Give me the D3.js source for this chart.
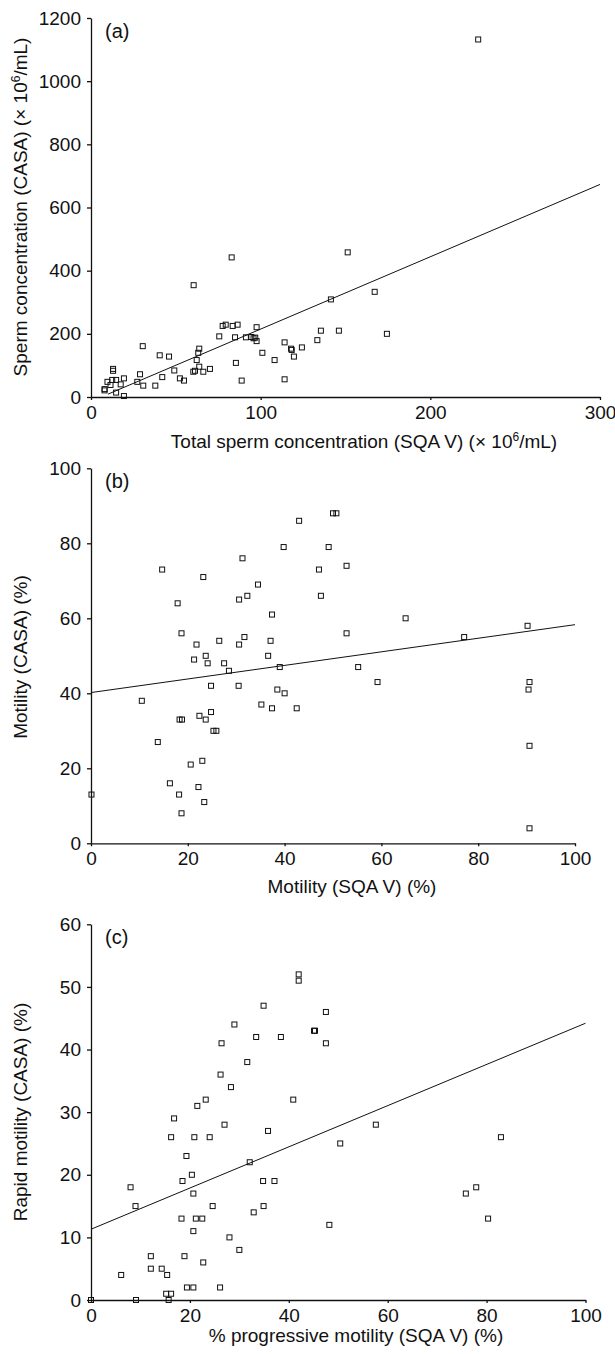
<!DOCTYPE html>
<html lang="en">
<head>
<meta charset="utf-8">
<title>SQA V vs CASA</title>
<script src="https://d3js.org/d3.v7.min.js"></script>
<style>
  body { margin: 0; background: #fff; }
  svg text { font-family: "Liberation Sans", Arial, sans-serif; fill: #111; }
  .axis text { font-size: 19px; }
  .axis path, .axis line { stroke: #111; stroke-width: 1.3; }
  .pt { fill: none; stroke: #111; stroke-width: 1; }
  .fit { stroke: #111; stroke-width: 1; fill: none; }
  .title { font-size: 19px; }
</style>
</head>
<body>
<div id="chart"></div>
<script>
// (a) sperm concentration, x 10^6/mL
const concSqa  = [8, 8, 9.7, 11.5, 12.5, 13, 13, 14.8, 14.8, 17.5, 19.4, 19.4, 27.3, 28.9, 30.5, 30.8, 37.9, 40.5, 42, 46, 49.1, 52.4, 54.8, 60.3, 61.3, 60.5, 62.3, 63.2, 63.8, 63.8, 66.2, 70.1, 75.6, 77.6, 79.4, 82.9, 83.5, 84.9, 85.4, 86.4, 88.8, 91.3, 94.5, 95.8, 96.8, 97.6, 97.6, 101, 108.2, 114.1, 114.1, 117.9, 118.3, 119.6, 124.3, 133.4, 135.5, 141.4, 146.1, 151.3, 167.2, 174.4, 228.2];
const concCasa = [25, 21, 48, 38, 54, 89, 83, 54, 14, 40, 59, 3, 48, 72, 161, 36, 36, 132, 63, 128, 84, 59, 52, 80, 83, 354, 117, 140, 153, 96, 80, 89, 192, 225, 229, 442, 225, 189, 108, 229, 52, 189, 190, 186, 188, 221, 177, 140, 117, 173, 56, 153, 149, 128, 157, 180, 210, 309, 210, 458, 333, 200, 1132];
const concFit  = [[10, 9], [300, 673]];

// (b) motility, %
const motSqa  = [14.7, 23.2, 31.3, 43, 50, 50.7, 39.8, 49.1, 47.1, 52.8, 34.5, 32.3, 30.6, 47.5, 17.9, 37.4, 65, 90.2, 77.1, 52.8, 18.7, 26.5, 21.8, 30.6, 31.7, 37.1, 23.7, 36.6, 21.3, 24.1, 27.5, 28.5, 39, 55.2, 59.2, 90.6, 90.4, 24.8, 30.5, 38.5, 40, 10.5, 35.2, 37.4, 42.5, 22.4, 24.8, 23.7, 18.3, 18.8, 25.3, 25.9, 13.8, 90.6, 20.6, 23, 16.3, 22.2, 18.2, 23.4, 18.7, 0.1, 90.6];
const motCasa = [73, 71, 76, 86, 88, 88, 79, 79, 73, 74, 69, 66, 65, 66, 64, 61, 60, 58, 55, 56, 56, 54, 53, 53, 55, 54, 50, 50, 49, 48, 48, 46, 47, 47, 43, 43, 41, 42, 42, 41, 40, 38, 37, 36, 36, 34, 35, 33, 33, 33, 30, 30, 27, 26, 21, 22, 16, 15, 13, 11, 8, 13, 4];
const motFit  = [[0, 40.2], [100, 58.3]];

// (c) progressive vs rapid motility, %
const progSqa   = [42, 42, 34.9, 47.5, 29, 45.1, 45.3, 33.4, 38.4, 26.4, 47.5, 31.6, 26.2, 28.3, 40.9, 23.2, 21.5, 16.8, 16.2, 20.9, 24, 27, 35.8, 57.6, 50.4, 82.9, 19.3, 32.1, 20.4, 18.5, 34.8, 37.1, 8, 20.7, 75.8, 77.9, 9, 24.6, 34.9, 32.9, 18.3, 21.2, 22.5, 80.3, 48.2, 20.7, 28, 30, 12.1, 18.9, 22.7, 6.1, 12.1, 14.3, 15.4, 19.4, 20.7, 26.1, 15.2, 16.2, 9.1, 15.7, 0];
const rapidCasa = [52, 51, 47, 46, 44, 43, 43, 42, 42, 41, 41, 38, 36, 34, 32, 32, 31, 29, 26, 26, 26, 28, 27, 28, 25, 26, 23, 22, 20, 19, 19, 19, 18, 17, 17, 18, 15, 15, 15, 14, 13, 13, 13, 13, 12, 11, 10, 8, 7, 7, 6, 4, 5, 5, 4, 2, 2, 2, 1, 1, 0, 0, 0];
const rapidFit  = [[0, 11.3], [100, 44.2]];

const w = 615, h = 1354;

const svg = d3.select("#chart").append("svg")
    .attr("width", w)
    .attr("height", h);

const panels = [
    {
        label: "(a)", xs: concSqa, ys: concCasa, fit: concFit,
        xDomain: [0, 300], yDomain: [0, 1200],
        xTicks: [0, 100, 200, 300], yTicks: [0, 200, 400, 600, 800, 1000, 1200],
        left: 91, right: 600, top: 18, bottom: 397,
        xTitle: ["Total sperm concentration (SQA V) (\u00d7 10", "6", "/mL)"], xTitleX: 364, xTitleY: 448,
        yTitle: ["Sperm concentration (CASA) (\u00d7 10", "6", "/mL)"], yTitleY: 207
    },
    {
        label: "(b)", xs: motSqa, ys: motCasa, fit: motFit,
        xDomain: [0, 100], yDomain: [0, 100],
        xTicks: [0, 20, 40, 60, 80, 100], yTicks: [0, 20, 40, 60, 80, 100],
        left: 91, right: 575, top: 468.3, bottom: 843.3,
        xTitle: ["Motility (SQA V) (%)"], xTitleX: 352, xTitleY: 893,
        yTitle: ["Motility (CASA) (%)"], yTitleY: 657
    },
    {
        label: "(c)", xs: progSqa, ys: rapidCasa, fit: rapidFit,
        xDomain: [0, 100], yDomain: [0, 60],
        xTicks: [0, 20, 40, 60, 80, 100], yTicks: [0, 10, 20, 30, 40, 50, 60],
        left: 91, right: 585.5, top: 924.3, bottom: 1300,
        xTitle: ["% progressive motility (SQA V) (%)"], xTitleX: 356, xTitleY: 1342,
        yTitle: ["Rapid motility (CASA) (%)"], yTitleY: 1112
    }
];

//write a title, the middle part (if any) is a superscript
const addTitle = (sel, parts) => {
    sel.append("tspan").text(parts[0]);
    if (parts.length > 1) {
        sel.append("tspan").attr("dy", -7).style("font-size", "12px").text(parts[1]);
        sel.append("tspan").attr("dy", 7).text(parts[2]);
    }
};

panels.forEach(p => {
    const x = d3.scaleLinear().domain(p.xDomain).range([p.left, p.right]);
    const y = d3.scaleLinear().domain(p.yDomain).range([p.bottom, p.top]);

    svg.append("g")
        .attr("class", "axis")
        .attr("transform", `translate(0, ${p.bottom})`)
        .call(d3.axisBottom(x).tickValues(p.xTicks).tickFormat(d3.format("d"))
            .tickSize(3).tickSizeOuter(0).tickPadding(5.5));

    svg.append("g")
        .attr("class", "axis")
        .attr("transform", `translate(${p.left}, 0)`)
        .call(d3.axisLeft(y).tickValues(p.yTicks).tickFormat(d3.format("d"))
            .tickSize(4).tickSizeOuter(0).tickPadding(6));

    //regression line
    svg.append("line")
        .attr("class", "fit")
        .attr("x1", x(p.fit[0][0]))
        .attr("y1", y(p.fit[0][1]))
        .attr("x2", x(p.fit[1][0]))
        .attr("y2", y(p.fit[1][1]));

    //open square markers
    const g = svg.append("g");
    g.selectAll("rect")
        .data(p.xs.map((d, i) => [d, p.ys[i]]))
        .enter()
        .append("rect")
        .attr("class", "pt")
        .attr("x", d => x(d[0]) - 2.5)
        .attr("y", d => y(d[1]) - 2.5)
        .attr("width", 5)
        .attr("height", 5);

    svg.append("text")
        .attr("x", p.left + 14)
        .attr("y", p.top + 20)
        .style("font-size", "20px")
        .text(p.label);

    const xt = svg.append("text")
        .attr("class", "title")
        .attr("x", p.xTitleX)
        .attr("y", p.xTitleY)
        .attr("text-anchor", "middle");
    addTitle(xt, p.xTitle);

    const yt = svg.append("text")
        .attr("class", "title")
        .attr("text-anchor", "middle")
        .attr("transform", `translate(27, ${p.yTitleY}) rotate(-90)`);
    addTitle(yt, p.yTitle);
});
</script>
</body>
</html>
